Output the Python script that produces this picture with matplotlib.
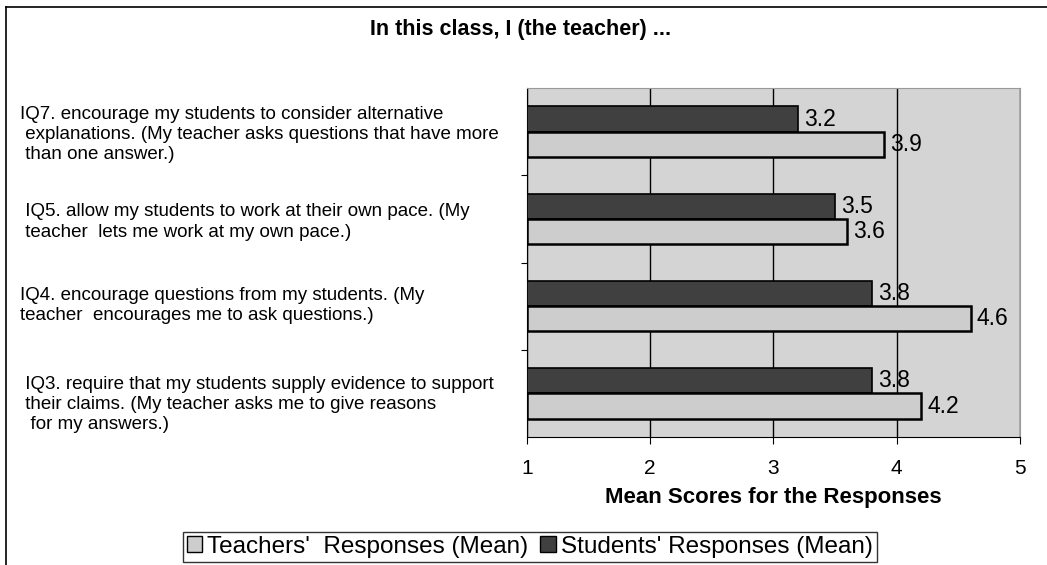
import matplotlib.pyplot as plt
from matplotlib.patches import Patch
from matplotlib.lines import Line2D

plt.rcParams['font.family'] = ['Liberation Sans', 'DejaVu Sans']

# Data (top to bottom)
items = [
    "IQ7. encourage my students to consider alternative\n explanations. (My teacher asks questions that have more\n than one answer.)",
    " IQ5. allow my students to work at their own pace. (My\n teacher  lets me work at my own pace.)",
    "IQ4. encourage questions from my students. (My\nteacher  encourages me to ask questions.)",
    " IQ3. require that my students supply evidence to support\n their claims. (My teacher asks me to give reasons\n  for my answers.)",
]
students = [3.2, 3.5, 3.8, 3.8]
teachers = [3.9, 3.6, 4.6, 4.2]
xticks = [1, 2, 3, 4, 5]

# small vertical nudges (pixels) for the left-hand labels
label_shift = [-3, -3, 1, -11]

fig = plt.figure(figsize=(10.47, 5.65), dpi=100)
ax = fig.add_axes([0.5033, 0.2265, 0.4709, 0.6177])
ax.set_facecolor('#d4d4d4')

pos = list(range(len(items)))
h = 0.29
ax.barh([p - h / 2 for p in pos], [s - 1 for s in students], left=1, height=h,
        color='#404040', edgecolor='black', linewidth=1.2, zorder=3)
ax.barh([p + h / 2 for p in pos], [t - 1 for t in teachers], left=1, height=h,
        color='#cdcdcd', edgecolor='black', linewidth=1.8, zorder=3)

for p, s, t in zip(pos, students, teachers):
    ax.text(s + 0.05, p - h / 2, f'{s:.1f}', va='center', ha='left', fontsize=16.5, zorder=4)
    ax.text(t + 0.05, p + h / 2, f'{t:.1f}', va='center', ha='left', fontsize=16.5, zorder=4)

ax.set_xlim(1, 5)
ax.set_ylim(len(items) - 0.5, -0.5)
ax.set_xticks(xticks)
ax.set_xticklabels([str(x) for x in xticks], fontsize=15)
ax.tick_params(axis='x', length=5, pad=11)
ax.set_yticks([i + 0.5 for i in range(len(items) - 1)])
ax.set_yticklabels([])
ax.tick_params(axis='y', length=4)
ax.grid(axis='x', color='black', linewidth=1, zorder=1)
ax.set_xlabel('Mean Scores for the Responses', fontsize=16, fontweight='bold', labelpad=6)
for side in ['top', 'right']:
    ax.spines[side].set_color('#999999')
for side in ['left', 'bottom']:
    ax.spines[side].set_color('black')

# category labels on the left
for p, lab, dy in zip(pos, items, label_shift):
    y = ax.transData.transform((1, p))[1] + dy
    fy = fig.transFigure.inverted().transform((0, y))[1]
    fig.text(0.019, fy, lab, ha='left', va='center', fontsize=13.5, linespacing=1.25)

fig.text(0.497, 0.948, 'In this class, I (the teacher) ...', ha='center', va='center',
         fontsize=15.5, fontweight='bold')

handles = [Patch(facecolor='#cdcdcd', edgecolor='black'),
           Patch(facecolor='#404040', edgecolor='black')]
leg = fig.legend(handles, ["Teachers'  Responses (Mean)", "Students' Responses (Mean)"],
                 loc='center', bbox_to_anchor=(0.506, 0.032), ncol=2, fontsize=17.5,
                 frameon=True, fancybox=False, edgecolor='black', handlelength=0.65,
                 handleheight=0.65, handletextpad=0.2, columnspacing=0.5,
                 borderpad=0.15, borderaxespad=0)
leg.get_frame().set_linewidth(1)

# outer frame
fig.add_artist(Line2D([0.006, 1], [0.988, 0.988], color='black', linewidth=1.2))
fig.add_artist(Line2D([0.006, 0.006], [0, 0.988], color='black', linewidth=1.2))

fig.savefig('out.png', dpi=100)
